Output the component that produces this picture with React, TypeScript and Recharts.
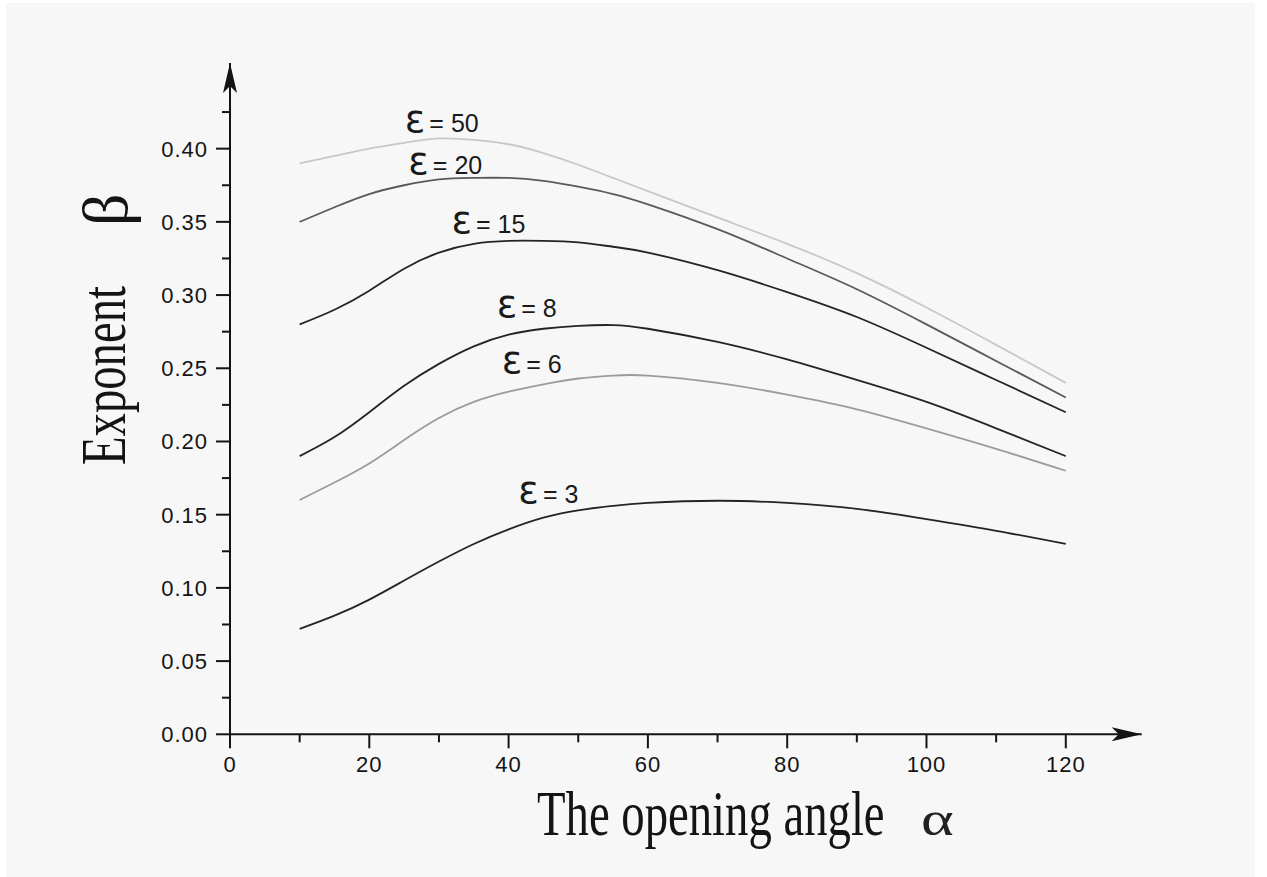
import React from 'react';
import { LineChart, Line, XAxis, YAxis, ReferenceDot } from 'recharts';

// opening angle samples (degrees)
const alphaDeg = [10, 15, 20, 25, 30, 35, 40, 45, 50, 55, 60, 70, 80, 90, 100, 110, 120];

// exponent beta for each epsilon
const eps50 = [0.39, 0.395, 0.4, 0.404, 0.407, 0.406, 0.403, 0.397, 0.389, 0.38, 0.371, 0.353, 0.335, 0.315, 0.2915, 0.266, 0.24];
const eps20 = [0.35, 0.36, 0.369, 0.375, 0.379, 0.38, 0.38, 0.378, 0.374, 0.369, 0.362, 0.345, 0.325, 0.304, 0.28, 0.255, 0.23];
const eps15 = [0.28, 0.29, 0.303, 0.318, 0.329, 0.335, 0.337, 0.337, 0.336, 0.333, 0.329, 0.317, 0.302, 0.285, 0.264, 0.242, 0.22];
const eps8 = [0.19, 0.203, 0.22, 0.238, 0.253, 0.265, 0.273, 0.277, 0.279, 0.2795, 0.277, 0.268, 0.256, 0.242, 0.227, 0.209, 0.19];
const eps6 = [0.16, 0.172, 0.185, 0.201, 0.216, 0.227, 0.234, 0.239, 0.243, 0.245, 0.245, 0.24, 0.232, 0.222, 0.209, 0.195, 0.18];
const eps3 = [0.072, 0.081, 0.092, 0.105, 0.118, 0.13, 0.14, 0.148, 0.153, 0.156, 0.158, 0.1595, 0.158, 0.154, 0.147, 0.139, 0.13];

const xTicks = [0, 10, 20, 30, 40, 50, 60, 70, 80, 90, 100, 110, 120];
const xMajor = [0, 20, 40, 60, 80, 100, 120];
const yTicks = [0, 0.025, 0.05, 0.075, 0.1, 0.125, 0.15, 0.175, 0.2, 0.225, 0.25, 0.275, 0.3, 0.325, 0.35, 0.375, 0.4, 0.425];
const yMajor = [0, 0.05, 0.1, 0.15, 0.2, 0.25, 0.3, 0.35, 0.4];

const xMax = 130.9;
const yMax = 0.4585;

const series = [
  { key: 'e50', values: eps50, color: '#c8c8c8' },
  { key: 'e20', values: eps20, color: '#5a5a5a' },
  { key: 'e15', values: eps15, color: '#242424' },
  { key: 'e8', values: eps8, color: '#242424' },
  { key: 'e6', values: eps6, color: '#9c9c9c' },
  { key: 'e3', values: eps3, color: '#242424' },
];

// curve labels: epsilon value and where the label text starts
const labelEps = ['50', '20', '15', '8', '6', '3'];
const labelAlpha = [25.1, 25.6, 31.8, 38.3, 39.0, 41.4];
const labelBeta = [0.4116, 0.3827, 0.3422, 0.2852, 0.2466, 0.1582];

const rows = alphaDeg.map((a, i) => {
  const r: Record<string, number> = { alpha: a };
  series.forEach((s) => (r[s.key] = s.values[i]));
  return r;
});

const ink = '#141414';
const sans = '"Liberation Sans", Arial, sans-serif';
const serif = '"Liberation Serif", "Times New Roman", serif';

const isIn = (list: number[], v: number) => list.some((m) => Math.abs(m - v) < 1e-6);

const XTick = (props: any) => {
  const { x, y, payload } = props;
  const major = isIn(xMajor, payload.value);
  return (
    <g>
      <line x1={x} y1={y} x2={x} y2={y + (major ? 14 : 8)} stroke={ink} strokeWidth={2} />
      {major && (
        <text x={x} y={y + 38} textAnchor="middle" fontFamily={sans} fontSize={22} letterSpacing={1} fill={ink}>
          {payload.value}
        </text>
      )}
    </g>
  );
};

const YTick = (props: any) => {
  const { x, y, payload } = props;
  const major = isIn(yMajor, payload.value);
  return (
    <g>
      <line x1={x - (major ? 14 : 8)} y1={y} x2={x} y2={y} stroke={ink} strokeWidth={2} />
      {major && (
        <text x={x - 22} y={y + 8} textAnchor="end" fontFamily={sans} fontSize={22} letterSpacing={1} fill={ink}>
          {payload.value.toFixed(2)}
        </text>
      )}
    </g>
  );
};

const EpsLabel = (eps: string) => (props: any) => (
  <text x={props.cx} y={props.cy} fill="#1a1a1a">
    <tspan fontFamily='"DejaVu Sans", sans-serif' fontSize={38}>ε</tspan>
    <tspan fontFamily={sans} fontSize={25} dx={4}>{`= ${eps}`}</tspan>
  </text>
);

const UpArrow = (props: any) => {
  const { cx, cy } = props;
  return <path d={`M${cx},${cy} L${cx + 7},${cy + 30} L${cx},${cy + 23} L${cx - 7},${cy + 30} Z`} fill={ink} />;
};

const RightArrow = (props: any) => {
  const { cx, cy } = props;
  return <path d={`M${cx},${cy} L${cx - 30},${cy - 7} L${cx - 23},${cy} L${cx - 30},${cy + 7} Z`} fill={ink} />;
};

const App: React.FC = () => {
  return (
    <div style={{ position: 'absolute', left: 0, top: 0, width: 1267, height: 877, background: '#ffffff' }}>
      <div style={{ position: 'absolute', left: 6, top: 3, width: 1249, height: 874, background: '#f7f7f7' }} />
      <div style={{ position: 'absolute', left: 0, top: 0 }}>
        <LineChart
          width={1267}
          height={877}
          data={rows}
          margin={{ top: 63, left: 229, right: 125.3, bottom: 141.7 }}
        >
          <XAxis
            type="number"
            dataKey="alpha"
            domain={[0, xMax]}
            ticks={xTicks}
            interval={0}
            height={1}
            tickSize={0}
            tickMargin={0}
            tickLine={false}
            tick={<XTick />}
            axisLine={{ stroke: ink, strokeWidth: 2 }}
          />
          <YAxis
            type="number"
            domain={[0, yMax]}
            ticks={yTicks}
            interval={0}
            width={1}
            tickSize={0}
            tickMargin={0}
            tickLine={false}
            tick={<YTick />}
            axisLine={{ stroke: ink, strokeWidth: 2 }}
          />
          {series.map((s) => (
            <Line
              key={s.key}
              type="natural"
              dataKey={s.key}
              stroke={s.color}
              strokeWidth={1.8}
              dot={false}
              isAnimationActive={false}
            />
          ))}
          {labelEps.map((e, i) => (
            <ReferenceDot key={e} x={labelAlpha[i]} y={labelBeta[i]} r={0} shape={EpsLabel(e)} />
          ))}
          <ReferenceDot x={0} y={yMax} r={0} shape={UpArrow} />
          <ReferenceDot x={xMax} y={0} r={0} shape={RightArrow} />
        </LineChart>
      </div>
      <svg width={1267} height={877} style={{ position: 'absolute', left: 0, top: 0, pointerEvents: 'none' }}>
        <text transform="translate(537,835) scale(0.73,1)" fontFamily={serif} fontSize={64} fill={ink}>
          The opening angle
        </text>
        <text transform="translate(921,835) scale(1.3,1)" fontFamily={serif} fontSize={48} fill="#222">
          α
        </text>
        <text transform="translate(125,465) rotate(-90) scale(0.73,1)" fontFamily={serif} fontSize={64} fill={ink}>
          Exponent
        </text>
        <text transform="translate(127,226) rotate(-90)" fontFamily={serif} fontSize={64} fill={ink}>
          β
        </text>
      </svg>
    </div>
  );
};

export default App;
